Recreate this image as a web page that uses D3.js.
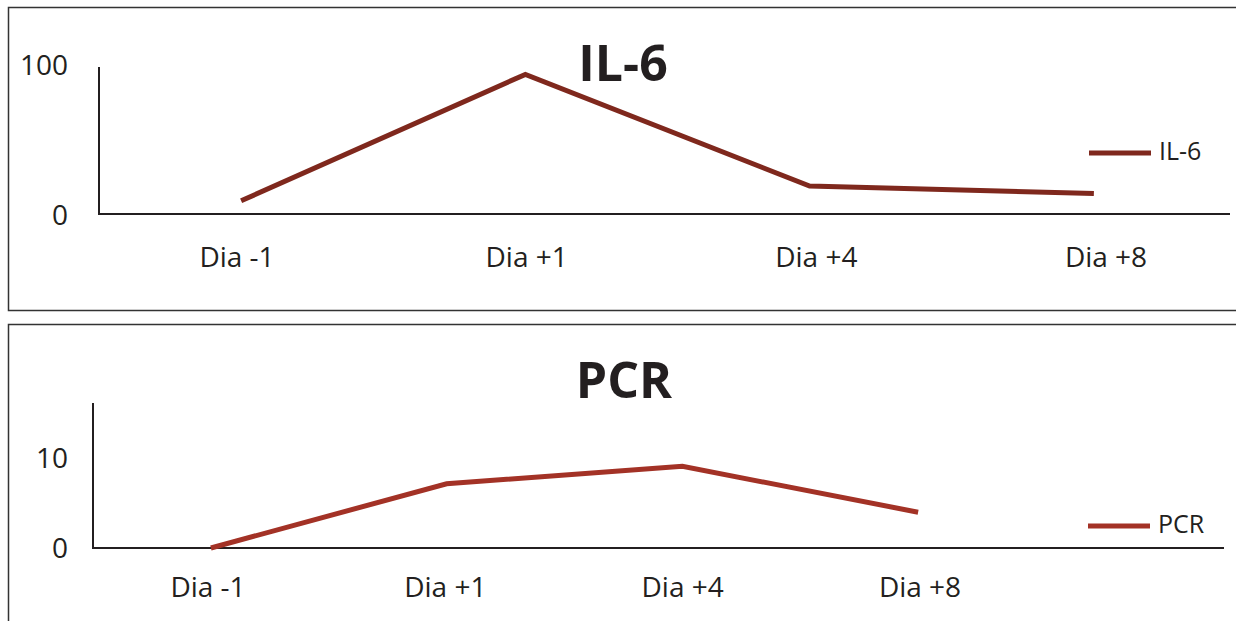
<!DOCTYPE html>
<html>
<head>
<meta charset="utf-8">
<script src="https://cdn.jsdelivr.net/npm/d3@7"></script>
<style>
  html, body { margin: 0; padding: 0; background: #fff; }
  svg { display: block; }
  text { font-family: "Open Sans", "Noto Sans", sans-serif; fill: #231f20; }
</style>
</head>
<body>
<svg id="chart" width="1236" height="621"></svg>
<script>
// ---- data ----
const categories = ["Dia -1", "Dia +1", "Dia +4", "Dia +8"];
const il6Values = [9, 95, 19, 14];
const pcrValues = [0, 7.0, 8.9, 3.9];
const il6Ticks = [0, 100];
const pcrTicks = [0, 10];
const titles = ["IL-6", "PCR"];
const seriesNames = ["IL-6", "PCR"];

const svg = d3.select("#chart");
const ink = "#231f20";

// panel frames
svg.append("rect").attr("x", 8.5).attr("y", 7.5).attr("width", 1240).attr("height", 303)
  .attr("fill", "none").attr("stroke", "#333").attr("stroke-width", 1.5);
svg.append("rect").attr("x", 8.5).attr("y", 324.5).attr("width", 1240).attr("height", 320)
  .attr("fill", "none").attr("stroke", "#333").attr("stroke-width", 1.5);

function panel(cfg) {
  const g = svg.append("g");
  const x = d3.scaleBand().domain(categories).range([cfg.x0, cfg.x1]);
  const xl = d3.scalePoint().domain(categories).range(cfg.labelRange);
  const y = d3.scaleLinear().domain(cfg.domain).range([cfg.y0, cfg.yTop]);

  // axes lines
  g.append("line").attr("x1", cfg.x0).attr("x2", cfg.x0)
    .attr("y1", y(cfg.domain[1])).attr("y2", y(0) + 1)
    .attr("stroke", ink).attr("stroke-width", 2);
  g.append("line").attr("x1", cfg.x0 - 1).attr("x2", cfg.axisEnd)
    .attr("y1", y(0)).attr("y2", y(0))
    .attr("stroke", ink).attr("stroke-width", 2);

  // y tick labels
  g.selectAll(".yt").data(cfg.ticks).enter().append("text")
    .attr("x", cfg.tickX).attr("y", (d, i) => y(d) + cfg.tickDy[i])
    .attr("text-anchor", "end").attr("dominant-baseline", "middle")
    .attr("font-size", 28).text(d => d);

  // x labels
  g.selectAll(".xt").data(categories).enter().append("text")
    .attr("x", d => xl(d)).attr("y", cfg.labelY)
    .attr("text-anchor", "middle").attr("dominant-baseline", "middle")
    .attr("font-size", 28).text(d => d);

  // line
  const line = d3.line()
    .x((d, i) => x(categories[i]) + x.bandwidth() / 2)
    .y(d => y(d));
  g.append("path").datum(cfg.values).attr("d", line)
    .attr("fill", "none").attr("stroke", cfg.color).attr("stroke-width", 5)
    .attr("stroke-linejoin", "miter");

  // title
  g.append("text").attr("x", cfg.titleX).attr("y", cfg.titleY)
    .attr("text-anchor", "middle").attr("dominant-baseline", "middle")
    .attr("font-size", 50).attr("font-weight", 700).text(cfg.title);

  // legend
  g.append("line").attr("x1", cfg.legX).attr("x2", cfg.legX + 62)
    .attr("y1", cfg.legY).attr("y2", cfg.legY)
    .attr("stroke", cfg.color).attr("stroke-width", 5);
  g.append("text").attr("x", cfg.legX + 70).attr("y", cfg.legY)
    .attr("dominant-baseline", "middle").attr("font-size", 25).text(cfg.name);
}

panel({
  x0: 99, x1: 1236, axisEnd: 1230, y0: 214, yTop: 67, domain: [0, 100],
  ticks: il6Ticks, tickX: 68, tickDy: [4, 1], values: il6Values, color: "#7f281d",
  labelRange: [237, 1106], labelY: 260, title: titles[0], titleX: 623, titleY: 68,
  legX: 1089, legY: 153, name: seriesNames[0]
});

panel({
  x0: 93, x1: 1036, axisEnd: 1224, y0: 548, yTop: 403, domain: [0, 15.8],
  ticks: pcrTicks, tickX: 68, tickDy: [3, 4], values: pcrValues, color: "#a33226",
  labelRange: [208, 920], labelY: 590, title: titles[1], titleX: 624, titleY: 385,
  legX: 1088, legY: 526, name: seriesNames[1]
});
</script>
</body>
</html>
